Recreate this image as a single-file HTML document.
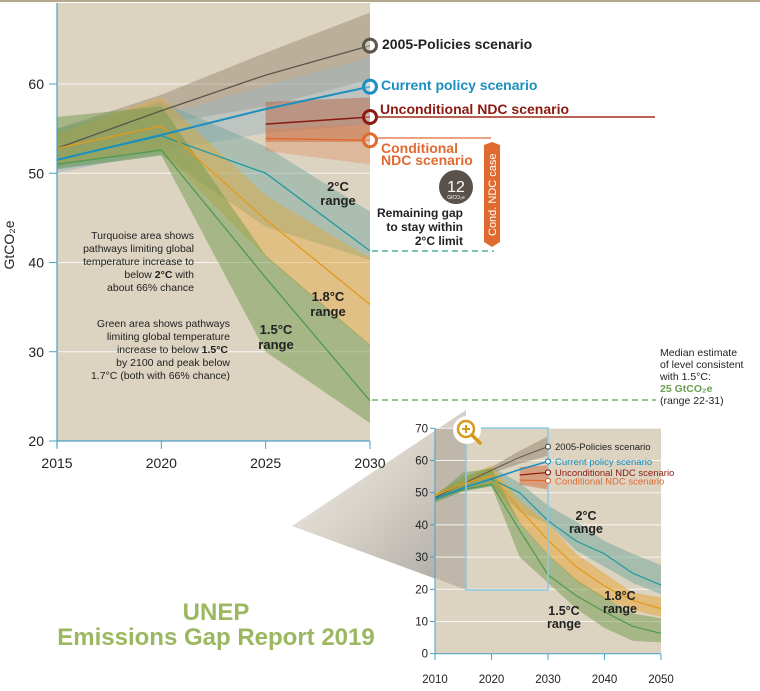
<!DOCTYPE html>
<html><head><meta charset="utf-8"><style>
html,body{margin:0;padding:0;background:#fff;}
svg{display:block;font-family:"Liberation Sans",sans-serif;}
</style></head><body>
<svg id="c" width="760" height="691" viewBox="0 0 760 691">
<defs>
<linearGradient id="wedge" x1="0" y1="0" x2="1" y2="1">
<stop offset="0" stop-color="#f4f2ee"/><stop offset="0.5" stop-color="#d6d0c6"/><stop offset="1" stop-color="#a8a6a2"/></linearGradient>
</defs>
<rect x="0" y="0" width="760" height="2" fill="#b5a88a"/>
<polygon points="292,526 466,410 466,590" fill="url(#wedge)"/>
<g id="main"></g>
<g id="inset"></g>
<g id="ann"></g>
</svg>
<script>
const NS='http://www.w3.org/2000/svg';
// ---- main chart data ----
const mainYears=[2015,2020,2025,2030];
const policies2005=[52.8,57,61,64.3];
const policies2005Hi=[55,58.8,63.5,68];
const policies2005Lo=[50.6,55.5,57.5,60.5];
const currentPolicy=[51.5,54.3,57.2,59.7];
const currentHi=[53.5,56.5,59.8,63];
const currentLo=[50,52.5,54.5,55.5];
const ndcYears=[2025,2030];
const uncondNDC=[55.5,56.3];
const uncondHi=[58,58.5];
const uncondLo=[53.5,53.5];
const condNDC=[53.9,53.7];
const condHi=[55,55.5];
const condLo=[52.5,51];
const deg2=[51.5,54.2,50,41.3];
const deg2Hi=[55,58,53,45.7];
const deg2Lo=[50.4,52,44,40.3];
const deg18=[52.8,55.3,44.8,35.3];
const deg18Hi=[54.5,58.5,47.5,40.5];
const deg18Lo=[51,52.5,40.6,30.6];
const deg15=[51,52.6,38.3,24.5];
const deg15Hi=[56.3,57.5,40.8,30.8];
const deg15Lo=[50.5,52,30,22];
const mainYTicks=[20,30,40,50,60];
const mainXTicks=[2015,2020,2025,2030];
// ---- inset data ----
const insYears=[2010,2015,2020,2025,2030,2035,2040,2045,2050];
const ins2005=[48.5,52.8,57,61,64.3];
const ins2005Hi=[49.5,54,58,63,67.5];
const ins2005Lo=[47.5,51.5,56,59,61.5];
const insCurrent=[48.2,51.5,54.3,57.2,59.7];
const insDeg2=[48,51.5,54.2,50,41.3,35,31,25,21.3];
const insDeg2Hi=[49.5,55,58,53,46,41,35,31,27.5];
const insDeg2Lo=[47,50.4,52,44,40.3,32,27,22,18.5];
const insDeg18=[49,52.8,55.3,44.8,35.3,27,21,16.5,14];
const insDeg18Hi=[50,54.5,58.5,47.5,40.5,31,25,19,17.5];
const insDeg18Lo=[48,51,52.5,40.6,30.6,22.5,17,13.5,11.5];
const insDeg15=[48,51,52.6,38.3,24.5,18,13,8.5,6.3];
const insDeg15Hi=[49,56.3,57.5,40.8,30.8,23,17.5,12.5,11];
const insDeg15Lo=[47,50.5,52,30,22,14,8,4,3.5];
const insYTicks=[0,10,20,30,40,50,60,70];
const insXTicks=[2010,2020,2030,2040,2050];

function el(tag,attrs,parent,text){const e=document.createElementNS(NS,tag);for(const k in attrs)e.setAttribute(k,attrs[k]);if(text!==undefined)e.textContent=text;parent.appendChild(e);return e;}
const mx=y=>57+(y-2015)*313/15, my=v=>441-(v-20)*8.925;
const ix=y=>435+(y-2010)*226/40, iy=v=>653.7-v*3.22;
function pts(xs,vs,fx,fy){return xs.slice(0,vs.length).map((x,i)=>fx(x)+','+fy(vs[i])).join(' ');}
function band(g,xs,hi,lo,fx,fy,fill,op,name){
 const p=el('polygon',{points:pts(xs,hi,fx,fy)+' '+xs.slice(0,lo.length).map((x,i)=>[x,lo[i]]).reverse().map(a=>fx(a[0])+','+fy(a[1])).join(' '),fill:fill,'fill-opacity':op},g);
 
 
}
function line(g,xs,vs,fx,fy,col,w,name){
 const p=el('polyline',{points:pts(xs,vs,fx,fy),fill:'none',stroke:col,'stroke-width':w},g);
 
 
}
function txt(g,x,y,s,attrs,name){const t=el('text',Object.assign({x:x,y:y},attrs),g,s);return t;}

// ---- main chart ----
const M=document.getElementById('main');
el('rect',{x:57,y:3,width:313,height:438,fill:'#dcd3c1'},M);
mainYTicks.forEach(v=>{
 const l=el('line',{x1:57,x2:370,y1:my(v),y2:my(v),stroke:'#fff','stroke-width':1,'stroke-opacity':0.8},M);
 
 
});
band(M,mainYears,policies2005Hi,policies2005Lo,mx,my,'#8a7a60',0.4,'policies-2005-band');
band(M,mainYears,currentHi,currentLo,mx,my,'#9fb5c0',0.5,'current-policy-band');
band(M,mainYears,deg2Hi,deg2Lo,mx,my,'#6fa59a',0.45,'deg2-band');
band(M,mainYears,deg18Hi,deg18Lo,mx,my,'#e5a83a',0.45,'deg18-band');
band(M,mainYears,deg15Hi,deg15Lo,mx,my,'#6f9a4c',0.5,'deg15-band');
band(M,ndcYears,uncondHi,uncondLo,mx,my,'#b5502a',0.4,'uncond-ndc-band');
band(M,ndcYears,condHi,condLo,mx,my,'#e07a45',0.3,'cond-ndc-band');
line(M,mainYears,policies2005,mx,my,'#5a564c',1.3,'policies-2005-line');
line(M,mainYears,deg2,mx,my,'#1f9aa0',1.3,'deg2-line');
line(M,mainYears,deg18,mx,my,'#e39a1c',1.3,'deg18-line');
line(M,mainYears,deg15,mx,my,'#4f9a4f',1.3,'deg15-line');
line(M,mainYears,currentPolicy,mx,my,'#1a8fc0',2,'current-policy-line');
line(M,ndcYears,uncondNDC,mx,my,'#8b1a10',1.5,'uncond-ndc-line');
line(M,ndcYears,condNDC,mx,my,'#e06a30',1.5,'cond-ndc-line');
el('line',{x1:57,x2:57,y1:3,y2:447,stroke:'#4aa0c8','stroke-width':1.2},M);
el('line',{x1:57,x2:370,y1:441,y2:441,stroke:'#4aa0c8','stroke-width':1.2},M);
mainYTicks.forEach(v=>{
 el('line',{x1:49,x2:57,y1:my(v),y2:my(v),stroke:'#4aa0c8'},M);
 txt(M,44,my(v)+5,String(v),{'font-size':14,'text-anchor':'end',fill:'#222'},'main-y-tick-label');
});
mainXTicks.forEach(y=>{
 el('line',{x1:mx(y),x2:mx(y),y1:441,y2:449,stroke:'#4aa0c8'},M);
 txt(M,mx(y),468,String(y),{'font-size':14,'text-anchor':'middle',fill:'#222'},'main-x-tick-label');
});
txt(M,0,0,'GtCO₂e',{'font-size':14,fill:'#222',transform:'translate(14,245) rotate(-90)','text-anchor':'middle'},'y-axis-title');
[[policies2005[3],'#5a564c'],[currentPolicy[3],'#1a8fc0'],[uncondNDC[1],'#8b1a10'],[condNDC[1],'#e06a30']].forEach(a=>{
 const c=el('circle',{cx:370,cy:my(a[0]),r:6.5,fill:'#fff','fill-opacity':0.3,stroke:a[1],'stroke-width':3},M);
 
 
});

// ---- annotations ----
const A=document.getElementById('ann');
txt(A,382,49,'2005-Policies scenario',{'font-size':14,'font-weight':'bold',fill:'#222'},'label-2005-policies');
txt(A,381,90,'Current policy scenario',{'font-size':14,'font-weight':'bold',fill:'#1a8fc0'},'label-current-policy');
txt(A,380,114,'Unconditional NDC scenario',{'font-size':14,'font-weight':'bold',fill:'#8b1a10'},'label-uncond-ndc');
el('line',{x1:376,x2:655,y1:117,y2:117,stroke:'#a0301c','stroke-width':1.5},A);
el('line',{x1:376,x2:491,y1:138,y2:138,stroke:'#e06a30','stroke-width':1.2},A);
txt(A,381,153,'Conditional',{'font-size':14,'font-weight':'bold',fill:'#e06a30'},'label-cond-ndc');
txt(A,381,165,'NDC scenario',{'font-size':14,'font-weight':'bold',fill:'#e06a30'},'label-cond-ndc-2');
el('polygon',{points:'484,145 492,142 500,145 500,242 492,247 484,242',fill:'#e06a30'},A);
txt(A,0,0,'Cond. NDC case',{'font-size':11,fill:'#fff',transform:'translate(496,236) rotate(-90)'},'gap-bar-label');
el('circle',{cx:456,cy:187,r:17,fill:'#5a524a'},A);
txt(A,456,192,'12',{'font-size':16,fill:'#fff','text-anchor':'middle'},'gap-value');
txt(A,456,199,'GtCO₂e',{'font-size':5,fill:'#fff','text-anchor':'middle'},'gap-unit');
txt(A,463,217,'Remaining gap',{'font-size':12,'font-weight':'bold',fill:'#222','text-anchor':'end'},'gap-text-1');
txt(A,463,231,'to stay within',{'font-size':12,'font-weight':'bold',fill:'#222','text-anchor':'end'},'gap-text-2');
txt(A,463,245,'2°C limit',{'font-size':12,'font-weight':'bold',fill:'#222','text-anchor':'end'},'gap-text-3');
el('line',{x1:372,x2:494,y1:251,y2:251,stroke:'#2aa08a','stroke-width':1.3,'stroke-dasharray':'6,4'},A);
el('line',{x1:372,x2:656,y1:400,y2:400,stroke:'#5aa050','stroke-width':1.3,'stroke-dasharray':'6,4'},A);
['Median estimate','of level consistent','with 1.5°C:'].forEach((s,i)=>txt(A,660,356+i*12,s,{'font-size':10.5,fill:'#222'},'median-text'));
txt(A,660,392,'25 GtCO₂e',{'font-size':10.5,'font-weight':'bold',fill:'#6aa050'},'median-value');
txt(A,660,404,'(range 22-31)',{'font-size':10.5,fill:'#222'},'median-range');
txt(A,338,191,'2°C',{'font-size':13,'font-weight':'bold',fill:'#222','text-anchor':'middle'},'deg2-range-label');
txt(A,338,205,'range',{'font-size':13,'font-weight':'bold',fill:'#222','text-anchor':'middle'},'deg2-range-label-2');
txt(A,328,301,'1.8°C',{'font-size':13,'font-weight':'bold',fill:'#222','text-anchor':'middle'},'deg18-range-label');
txt(A,328,316,'range',{'font-size':13,'font-weight':'bold',fill:'#222','text-anchor':'middle'},'deg18-range-label-2');
txt(A,276,334,'1.5°C',{'font-size':13,'font-weight':'bold',fill:'#222','text-anchor':'middle'},'deg15-range-label');
txt(A,276,349,'range',{'font-size':13,'font-weight':'bold',fill:'#222','text-anchor':'middle'},'deg15-range-label-2');
['Turquoise area shows','pathways limiting global','temperature increase to'].forEach((s,i)=>txt(A,194,239+i*13,s,{'font-size':10.5,fill:'#222','text-anchor':'end'},'turquoise-note'));
const t4=txt(A,194,278,'below ',{'font-size':10.5,fill:'#222','text-anchor':'end'},'turquoise-note');
el('tspan',{'font-weight':'bold'},t4,'2°C');t4.appendChild(document.createTextNode(' with'));
txt(A,194,291,'about 66% chance',{'font-size':10.5,fill:'#222','text-anchor':'end'},'turquoise-note');
['Green area shows pathways','limiting global temperature'].forEach((s,i)=>txt(A,230,327+i*13,s,{'font-size':10.5,fill:'#222','text-anchor':'end'},'green-note'));
const g3=txt(A,228,353,'increase to below ',{'font-size':10.5,fill:'#222','text-anchor':'end'},'green-note');
el('tspan',{'font-weight':'bold'},g3,'1.5°C');
['by 2100 and peak below','1.7°C (both with 66% chance)'].forEach((s,i)=>txt(A,230,366+i*13,s,{'font-size':10.5,fill:'#222','text-anchor':'end'},'green-note'));
txt(A,216,620,'UNEP',{'font-size':24,'font-weight':'bold',fill:'#9bb860','text-anchor':'middle'},'title-unep');
txt(A,216,645,'Emissions Gap Report 2019',{'font-size':24,'font-weight':'bold',fill:'#9bb860','text-anchor':'middle'},'title-report');

// ---- inset ----
const I=document.getElementById('inset');
el('rect',{x:435,y:428,width:226,height:226,fill:'#dcd3c1'},I);
el('polygon',{points:'435,428 466,428 466,590 435,578',fill:'#8a8680','fill-opacity':0.35},I);
insYTicks.forEach(v=>{if(v>0){const l=el('line',{x1:435,x2:661,y1:iy(v),y2:iy(v),stroke:'#fff','stroke-opacity':0.8},I);}});
band(I,insYears,ins2005Hi,ins2005Lo,ix,iy,'#8a7a60',0.45,'inset-2005-band');
band(I,insYears,insDeg2Hi,insDeg2Lo,ix,iy,'#6fa59a',0.5,'inset-deg2-band');
band(I,insYears,insDeg18Hi,insDeg18Lo,ix,iy,'#e5a83a',0.55,'inset-deg18-band');
band(I,insYears,insDeg15Hi,insDeg15Lo,ix,iy,'#6f9a4c',0.5,'inset-deg15-band');
band(I,ndcYears,uncondHi,condLo,ix,iy,'#d06a3a',0.5,'inset-ndc-band');
line(I,insYears,ins2005,ix,iy,'#5a564c',1,'inset-2005-line');
line(I,insYears,insDeg2,ix,iy,'#1f9aa0',1.2,'inset-deg2-line');
line(I,insYears,insDeg18,ix,iy,'#e39a1c',1.2,'inset-deg18-line');
line(I,insYears,insDeg15,ix,iy,'#4f9a4f',1.2,'inset-deg15-line');
line(I,insYears,insCurrent,ix,iy,'#1a8fc0',1.5,'inset-current-line');
line(I,ndcYears,uncondNDC,ix,iy,'#8b1a10',1.2,'inset-uncond-line');
line(I,ndcYears,condNDC,ix,iy,'#e06a30',1.2,'inset-cond-line');
el('line',{x1:435,x2:435,y1:428,y2:657,stroke:'#4aa0c8'},I);
el('line',{x1:435,x2:661,y1:653.7,y2:653.7,stroke:'#4aa0c8'},I);
insYTicks.forEach(v=>{el('line',{x1:430,x2:435,y1:iy(v),y2:iy(v),stroke:'#4aa0c8'},I);txt(I,428,iy(v)+4,String(v),{'font-size':11.5,'text-anchor':'end',fill:'#222'},'inset-y-tick-label');});
insXTicks.forEach(y=>{el('line',{x1:ix(y),x2:ix(y),y1:653.7,y2:660,stroke:'#4aa0c8'},I);txt(I,ix(y),683,String(y),{'font-size':11.5,'text-anchor':'middle',fill:'#222'},'inset-x-tick-label');});
el('rect',{x:466,y:428,width:82,height:162,fill:'none',stroke:'#8cc8e0','stroke-width':1.5},I);
[[ins2005[4],'#5a564c','2005-Policies scenario','#222'],[insCurrent[4],'#1a8fc0','Current policy scenario','#1a8fc0'],[uncondNDC[1],'#8b1a10','Unconditional NDC scenario','#8b1a10'],[condNDC[1],'#e06a30','Conditional NDC scenario','#e06a30']].forEach((a,i)=>{
 const c=el('circle',{cx:548,cy:iy(a[0]),r:2.5,fill:'#fff',stroke:a[1],'stroke-width':1.2},I);
 
 txt(I,555,iy(a[0])+3.5,a[2],{'font-size':9.5,fill:a[3]},'inset-scenario-label');
});
txt(I,586,520,'2°C',{'font-size':12.5,'font-weight':'bold',fill:'#222','text-anchor':'middle'},'inset-deg2-label');
txt(I,586,533,'range',{'font-size':12.5,'font-weight':'bold',fill:'#222','text-anchor':'middle'},'inset-deg2-label-2');
txt(I,620,600,'1.8°C',{'font-size':12.5,'font-weight':'bold',fill:'#222','text-anchor':'middle'},'inset-deg18-label');
txt(I,620,613,'range',{'font-size':12.5,'font-weight':'bold',fill:'#222','text-anchor':'middle'},'inset-deg18-label-2');
txt(I,564,615,'1.5°C',{'font-size':12.5,'font-weight':'bold',fill:'#222','text-anchor':'middle'},'inset-deg15-label');
txt(I,564,628,'range',{'font-size':12.5,'font-weight':'bold',fill:'#222','text-anchor':'middle'},'inset-deg15-label-2');
const mg=el('g',{},I);
el('circle',{cx:467,cy:430,r:14,fill:'#fff'},mg);
el('circle',{cx:466,cy:429,r:8,fill:'none',stroke:'#d69a1c','stroke-width':2.5},mg);
el('line',{x1:472,y1:435,x2:480,y2:443,stroke:'#d69a1c','stroke-width':3.5,'stroke-linecap':'round'},mg);
el('line',{x1:462,y1:429,x2:470,y2:429,stroke:'#d69a1c','stroke-width':2},mg);
el('line',{x1:466,y1:425,x2:466,y2:433,stroke:'#d69a1c','stroke-width':2},mg);
</script>
</body></html>
